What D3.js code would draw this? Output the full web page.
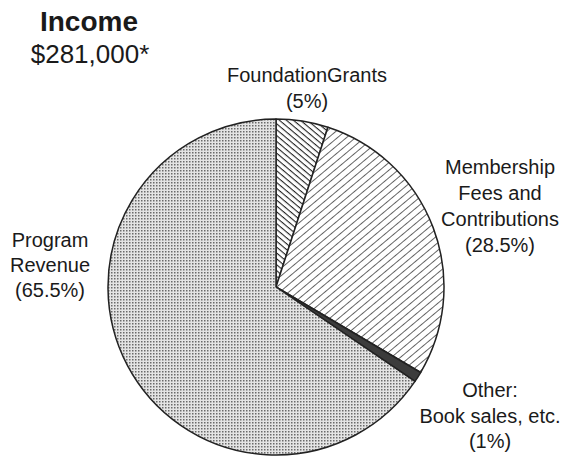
<!DOCTYPE html>
<html>
<head>
<meta charset="utf-8">
<script src="https://cdn.jsdelivr.net/npm/d3@7"></script>
<style>
  body { margin: 0; background: #fff; }
  text { font-family: "Liberation Sans", Arial, sans-serif; fill: #1a1a1a; }
</style>
</head>
<body>
<div id="chart"></div>
<script>
// Data
const categories = ["Foundation Grants", "Membership Fees and Contributions", "Other: Book sales, etc.", "Program Revenue"];
const shares = [5, 28.5, 1, 65.5];
const labelLines = [
  ["FoundationGrants", "(5%)"],
  ["Membership", "Fees and", "Contributions", "(28.5%)"],
  ["Other:", "Book sales, etc.", "(1%)"],
  ["Program", "Revenue", "(65.5%)"]
];
const fills = ["url(#hatchDense)", "url(#hatchWide)", "#3c3c3c", "url(#stipple)"];

const width = 565, height = 457;
const cx = 276, cy = 287, radius = 168;

const svg = d3.select("#chart")
  .append("svg")
  .attr("width", width)
  .attr("height", height);

// Patterns
const defs = svg.append("defs");
defs.append("pattern")
  .attr("id", "hatchDense")
  .attr("patternUnits", "userSpaceOnUse")
  .attr("width", 4.5).attr("height", 4.5)
  .attr("patternTransform", "rotate(40)")
  .call(p => {
    p.append("rect").attr("width", 4.5).attr("height", 4.5).attr("fill", "#fff");
    p.append("line").attr("x1", 0).attr("y1", 0).attr("x2", 4.5).attr("y2", 0)
      .attr("stroke", "#222").attr("stroke-width", 2.2);
  });
defs.append("pattern")
  .attr("id", "hatchWide")
  .attr("patternUnits", "userSpaceOnUse")
  .attr("width", 5.8).attr("height", 5.8)
  .attr("patternTransform", "rotate(-40)")
  .call(p => {
    p.append("rect").attr("width", 5.8).attr("height", 5.8).attr("fill", "#fff");
    p.append("line").attr("x1", 0).attr("y1", 0).attr("x2", 5.8).attr("y2", 0)
      .attr("stroke", "#333").attr("stroke-width", 1.5);
  });
defs.append("pattern")
  .attr("id", "stipple")
  .attr("patternUnits", "userSpaceOnUse")
  .attr("width", 3).attr("height", 3)
  .call(p => {
    p.append("rect").attr("width", 3).attr("height", 3).attr("fill", "#e4e4e4");
    p.append("rect").attr("x", 0).attr("y", 0).attr("width", 1.5).attr("height", 1.5).attr("fill", "#6a6a6a");
  });

// Pie
const pie = d3.pie().sort(null).value(d => d);
const arc = d3.arc().innerRadius(0).outerRadius(radius);

const g = svg.append("g").attr("transform", `translate(${cx},${cy})`);
g.selectAll("path")
  .data(pie(shares))
  .join("path")
  .attr("d", arc)
  .attr("fill", (d, i) => fills[i])
  .attr("stroke", "#222")
  .attr("stroke-width", 1.5)
  .attr("stroke-linejoin", "round");

// Labels
const labelPos = [[307, 82, 26], [500, 174, 26], [490, 397, 25.5], [50, 247, 25]];
labelLines.forEach((lines, i) => {
  const [lx, ly, lh] = labelPos[i];
  const t = svg.append("text")
    .attr("text-anchor", "middle")
    .attr("font-size", 20);
  lines.forEach((s, j) => {
    t.append("tspan")
      .attr("x", lx)
      .attr("y", ly + j * lh)
      .text(s);
  });
});

// Title
svg.append("text")
  .attr("x", 89).attr("y", 31)
  .attr("text-anchor", "middle")
  .attr("font-size", 28)
  .attr("font-weight", "bold")
  .text("Income");
svg.append("text")
  .attr("x", 90).attr("y", 63)
  .attr("text-anchor", "middle")
  .attr("font-size", 26)
  .text("$281,000*");
</script>
</body>
</html>
